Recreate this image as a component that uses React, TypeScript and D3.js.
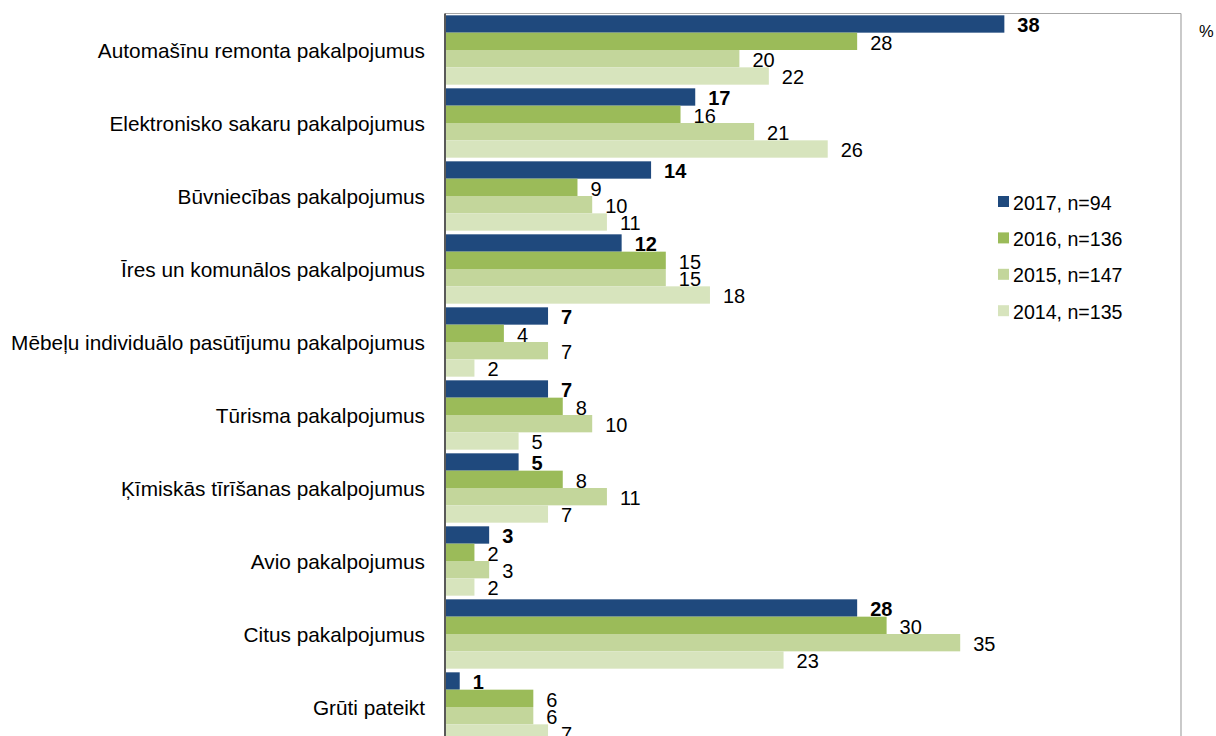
import React from 'react';
import { scaleLinear, scaleBand } from 'd3';

const categories = [
    'Automašīnu remonta pakalpojumus',
    'Elektronisko sakaru pakalpojumus',
    'Būvniecības pakalpojumus',
    'Īres un komunālos pakalpojumus',
    'Mēbeļu individuālo pasūtījumu pakalpojumus',
    'Tūrisma pakalpojumus',
    'Ķīmiskās tīrīšanas pakalpojumus',
    'Avio pakalpojumus',
    'Citus pakalpojumus',
    'Grūti pateikt'
];

const seriesNames = ['2017, n=94', '2016, n=136', '2015, n=147', '2014, n=135'];
const seriesColors = ['#1F497D', '#9BBB59', '#C3D69B', '#D7E4BD'];

const values2017 = [38, 17, 14, 12, 7, 7, 5, 3, 28, 1];
const values2016 = [28, 16, 9, 15, 4, 8, 8, 2, 30, 6];
const values2015 = [20, 21, 10, 15, 7, 10, 11, 3, 35, 6];
const values2014 = [22, 26, 11, 18, 2, 5, 7, 2, 23, 7];

const allSeries = [values2017, values2016, values2015, values2014];

const App: React.FC = () => {
    const width = 1216;
    const height = 736;
    const plot = { left: 445, right: 1181, top: 13.5 };
    const step = 73;
    const font = 'Liberation Sans, Arial, sans-serif';

    const xScale = scaleLinear().domain([0, 50]).range([plot.left, plot.right]);
    const yScale = scaleBand<string>()
        .domain(categories)
        .range([plot.top, plot.top + step * categories.length])
        .paddingInner(0.05)
        .paddingOuter(0.025);
    const inner = scaleBand<number>()
        .domain([0, 1, 2, 3])
        .range([0, yScale.bandwidth()]);

    return (
        <svg width={width} height={height} style={{ position: 'absolute', left: 0, top: 0 }} fontFamily={font}>
            <rect width={width} height={height} fill="#ffffff" />

            {/* plot area border (top + right) */}
            <line x1={plot.left} x2={plot.right} y1={plot.top} y2={plot.top} stroke="#A6A6A6" strokeWidth={1.2} />
            <line x1={plot.right} x2={plot.right} y1={plot.top} y2={height} stroke="#A6A6A6" strokeWidth={1.2} />

            {/* bars */}
            {categories.map((cat, ci) => (
                <g key={cat} transform={`translate(0,${yScale(cat)})`}>
                    {allSeries.map((vals, si) => {
                        const y = inner(si) as number;
                        const h = inner.bandwidth();
                        const xEnd = xScale(vals[ci]);
                        return (
                            <g key={si}>
                                <rect
                                    x={xScale(0)}
                                    y={y}
                                    width={xEnd - xScale(0)}
                                    height={h}
                                    fill={seriesColors[si]}
                                />
                                <text
                                    x={xEnd + 13}
                                    y={y + h / 2 + 3}
                                    dominantBaseline="middle"
                                    fontSize={20}
                                    fontWeight={si === 0 ? 'bold' : 'normal'}
                                    fill="#000"
                                >
                                    {vals[ci]}
                                </text>
                            </g>
                        );
                    })}
                    <text
                        x={425}
                        y={yScale.bandwidth() / 2 + 3}
                        textAnchor="end"
                        dominantBaseline="middle"
                        fontSize={20.8}
                        fill="#000"
                    >
                        {cat}
                    </text>
                </g>
            ))}

            {/* category axis */}
            <line x1={plot.left} x2={plot.left} y1={plot.top} y2={height} stroke="#595959" strokeWidth={2} />

            {/* unit */}
            <text x={1199} y={33} dominantBaseline="middle" fontSize={16.5} fill="#000">%</text>

            {/* legend */}
            {seriesNames.map((name, i) => (
                <g key={name} transform={`translate(998,${201.5 + i * 36.4})`}>
                    <rect x={0} y={-5.5} width={11} height={11} fill={seriesColors[i]} />
                    <text x={15} y={3} dominantBaseline="middle" fontSize={19.6} fill="#000">{name}</text>
                </g>
            ))}
        </svg>
    );
};

export default App;
